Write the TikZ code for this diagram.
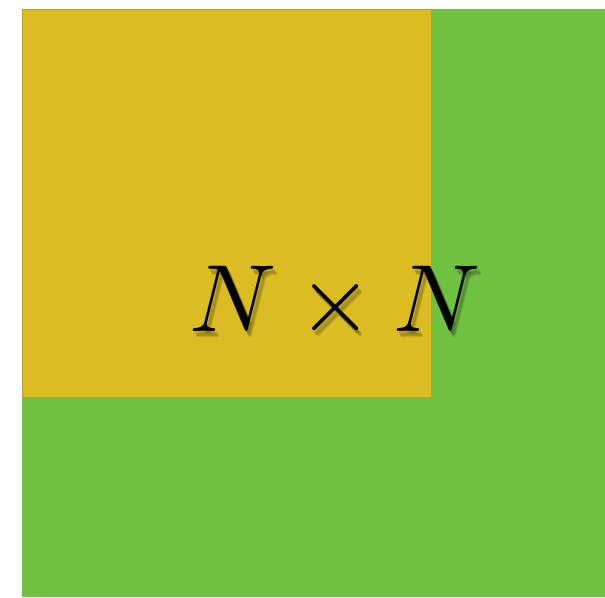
\documentclass[tikz,border=0pt]{standalone}
\definecolor{gridgreen}{RGB}{112,192,66}
\definecolor{blockyellow}{RGB}{219,189,35}
\begin{document}
\begin{tikzpicture}[x=1pt, y=1pt,
      area/.style={fill=gridgreen, draw=none},
      block/.style={fill=blockyellow, draw=blockyellow!85!black, line width=0.6pt},
      label/.style={inner sep=0pt, anchor=base, scale=9.55},
      shade/.style={label, text=black, opacity=0.13}]
    \useasboundingbox (0,0) rectangle (605,597);
    \fill[area] (21.5,0) rectangle (605,588);
    \filldraw[block] (22.5,200) rectangle (431,588);
    % soft shadow under the size label
    \foreach \dx/\dy [count=\i] in {1.5/-2.5, 3/-4, 4/-5.5}
      \node[shade] (sizeshade\i) at (335.5+\dx,265+\dy) {$N\times N$};
    \node[label] (size) at (335.5,265) {$N\times N$};
\end{tikzpicture}
\end{document}
